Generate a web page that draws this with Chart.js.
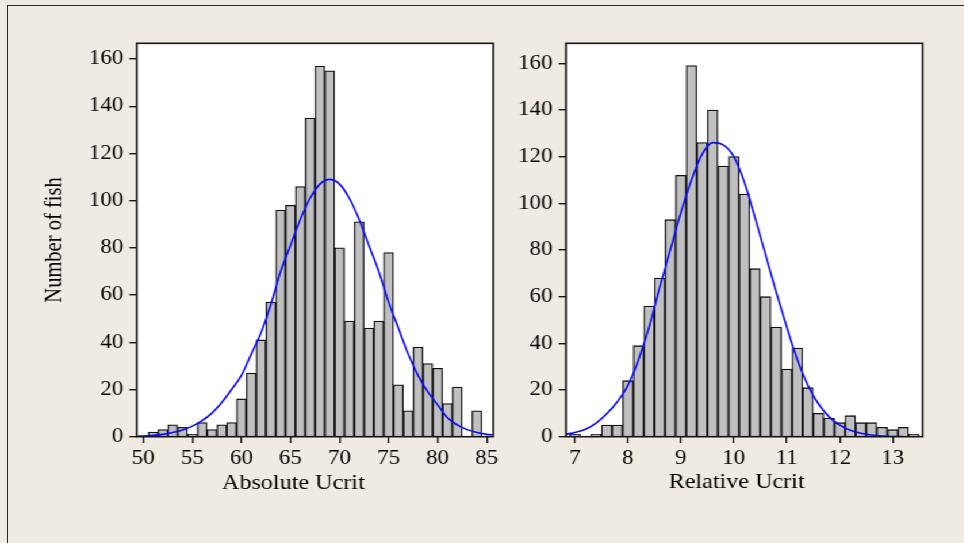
<!DOCTYPE html>
<html><head><meta charset="utf-8">
<script src="https://cdn.jsdelivr.net/npm/chart.js@4"></script>
<style>
html,body{margin:0;padding:0;width:964px;height:543px;overflow:hidden;background:#efebe2;}
#frame{position:absolute;left:7px;top:5px;width:1000px;height:600px;border-top:1.5px solid #2a2a2a;border-left:1.5px solid #2a2a2a;}
#wrap{position:absolute;left:0;top:0;width:838.26px;height:543px;transform:scaleX(1.15);transform-origin:0 0;}
#c1{position:absolute;left:0;top:0;}
#c2{position:absolute;left:440px;top:0;}
</style></head>
<body>
<div id="frame"></div>
<div id="wrap"><canvas id="c1" width="440" height="543"></canvas><canvas id="c2" width="398" height="543"></canvas></div>
<script>
// ---------- data ----------
const yTitle = "Number of fish";
const absTitle = "Absolute Ucrit";
const relTitle = "Relative Ucrit";

const yTickValues = [0, 20, 40, 60, 80, 100, 120, 140, 160];
const absTickValues = [50, 55, 60, 65, 70, 75, 80, 85];
const relTickValues = [7, 8, 9, 10, 11, 12, 13];

const absBinCenters = [51, 52, 53, 54, 55, 56, 57, 58, 59, 60, 61, 62, 63, 64, 65, 66, 67,
  68, 69, 70, 71, 72, 73, 74, 75, 76, 77, 78, 79, 80, 81, 82, 83, 84];
const absCounts = [2, 3, 5, 4, 1, 6, 3, 5, 6, 16, 27, 41, 57, 96, 98, 106, 135,
  157, 155, 80, 49, 91, 46, 49, 78, 22, 11, 38, 31, 29, 14, 21, 0, 11];

const absCurveX = [49.4, 50, 51, 52, 53, 54, 55, 56, 57, 58, 59, 60, 61, 62, 63, 64, 65, 66, 67,
  68, 69, 70, 71, 72, 73, 74, 75, 76, 77, 78, 79, 80, 81, 82, 83, 84, 85, 85.6];
const absCurveY = [0.2, 0.3, 0.6, 1.0, 1.8, 2.8, 4.5, 6.8, 10, 14.5, 20, 26, 35, 44, 56, 70, 81, 92, 101,
  107, 109, 107, 101, 92, 81, 70, 57, 46, 35, 26, 19, 13.5, 8, 5, 3, 1.8, 1.0, 0.8];

const relBinCenters = [7.0, 7.2, 7.4, 7.6, 7.8, 8.0, 8.2, 8.4, 8.6, 8.8, 9.0, 9.2, 9.4, 9.6, 9.8,
  10.0, 10.2, 10.4, 10.6, 10.8, 11.0, 11.2, 11.4, 11.6, 11.8, 12.0, 12.2, 12.4, 12.6, 12.8, 13.0, 13.2, 13.4];
const relCounts = [1, 0, 1, 5, 5, 24, 39, 56, 68, 93, 112, 159, 126, 140, 116,
  120, 104, 72, 60, 47, 29, 38, 21, 10, 8, 6, 9, 6, 6, 4, 3, 4, 1];

const relCurveX = [6.84, 7.0, 7.2, 7.4, 7.6, 7.8, 8.0, 8.2, 8.4, 8.6, 8.8, 9.0, 9.2, 9.4, 9.6, 9.8,
  10.0, 10.2, 10.4, 10.6, 10.8, 11.0, 11.2, 11.4, 11.6, 11.8, 12.0, 12.2, 12.4, 12.6, 12.8, 13.0, 13.2];
const relCurveY = [1.1, 1.8, 3.2, 5.8, 9.8, 15, 22, 33, 47, 64, 80, 96, 110, 121, 126, 125,
  120, 109, 94, 78, 62, 47, 33, 22, 14, 8.5, 5, 2.8, 1.5, 0.7, 0.3, 0.1, 0];

// ---------- styling / helpers ----------
const FONT = '"Liberation Serif", "Times New Roman", serif';
Chart.defaults.font.family = FONT;
Chart.defaults.color = '#000';

const plotFrame = {
  id: 'plotFrame',
  beforeDraw(chart) {
    const a = chart.chartArea, ctx = chart.ctx;
    ctx.save(); ctx.fillStyle = '#ffffff';
    ctx.fillRect(a.left, a.top, a.right - a.left, a.bottom - a.top);
    ctx.restore();
  },
  afterDatasetsDraw(chart) {
    const a = chart.chartArea, ctx = chart.ctx;
    ctx.save(); ctx.strokeStyle = '#151515'; ctx.lineWidth = 1.6;
    ctx.strokeRect(a.left, a.top, a.right - a.left, a.bottom - a.top);
    ctx.restore();
  }
};
const xTitlePlugin = {
  id: 'xTitle',
  afterDraw(chart, args, o) {
    const ctx = chart.ctx;
    ctx.save();
    ctx.font = '21px ' + FONT; ctx.fillStyle = '#000';
    ctx.textAlign = 'center'; ctx.textBaseline = 'alphabetic';
    ctx.fillText(o.text, o.x, o.y);
    ctx.restore();
  }
};

function toPts(xs, ys) { return xs.map((x, i) => ({x: x, y: ys[i]})); }

function makePanel(id, o) {
  return new Chart(document.getElementById(id), {
    type: 'bar',
    data: {
      datasets: [
        { type: 'line', data: toPts(o.curveX, o.curveY), borderColor: '#0a0aff', borderWidth: 1.6,
          pointRadius: 0, fill: false, cubicInterpolationMode: 'monotone' },
        { type: 'bar', data: toPts(o.bins, o.counts), backgroundColor: '#c0c0c0', borderColor: '#111111',
          borderWidth: 1.3, barPercentage: 1, categoryPercentage: 1 }
      ]
    },
    options: {
      responsive: false, animation: false, devicePixelRatio: 1,
      layout: { padding: { left: 0, top: 43.3, right: o.padRight, bottom: 543 - 436.7 - 40 } },
      plugins: { legend: { display: false }, tooltip: { enabled: false },
        xTitle: { text: o.xTitle, x: o.xTitleX, y: o.xTitleY } },
      scales: {
        x: {
          type: 'linear', min: o.xMin, max: o.xMax, offset: false,
          afterBuildTicks: s => { s.ticks = o.xTicks.map(v => ({value: v})); },
          afterFit: s => { s.height = 40; },
          grid: { offset: false, drawOnChartArea: false, drawTicks: true, tickLength: 6.4, color: '#151515', lineWidth: 1.4 },
          border: { display: false },
          ticks: { font: { size: 20 }, padding: 3.6, color: '#000', maxRotation: 0, autoSkip: false }
        },
        y: {
          type: 'linear', min: 0, max: o.yMax,
          afterBuildTicks: s => { s.ticks = yTickValues.map(v => ({value: v})); },
          afterFit: s => { s.width = o.yWidth; },
          grid: { drawOnChartArea: false, drawTicks: true, tickLength: 6.4, color: '#151515', lineWidth: 1.4 },
          border: { display: false },
          ticks: { font: { size: 20 }, padding: 5.3, color: '#000' },
          title: { display: !!o.yTitle, text: o.yTitle || '', color: '#000', font: { size: 20.5 },
            padding: { top: 35.5, bottom: 0 } }
        }
      }
    },
    plugins: [plotFrame, xTitlePlugin]
  });
}

makePanel('c1', {
  bins: absBinCenters, counts: absCounts, curveX: absCurveX, curveY: absCurveY,
  xMin: 49.33, xMax: 85.67, xTicks: absTickValues, yMax: 166.65,
  yWidth: 118.87, padRight: 440 - 428.96, yTitle: yTitle,
  xTitle: absTitle, xTitleX: 255.1, xTitleY: 488.5
});
makePanel('c2', {
  bins: relBinCenters, counts: relCounts, curveX: relCurveX, curveY: relCurveY,
  xMin: 6.83, xMax: 13.567, xTicks: relTickValues, yMax: 168.57,
  yWidth: 52.17, padRight: 398 - 362.35, yTitle: null,
  xTitle: relTitle, xTitleX: 200.6, xTitleY: 487.5
});
</script>
</body></html>
